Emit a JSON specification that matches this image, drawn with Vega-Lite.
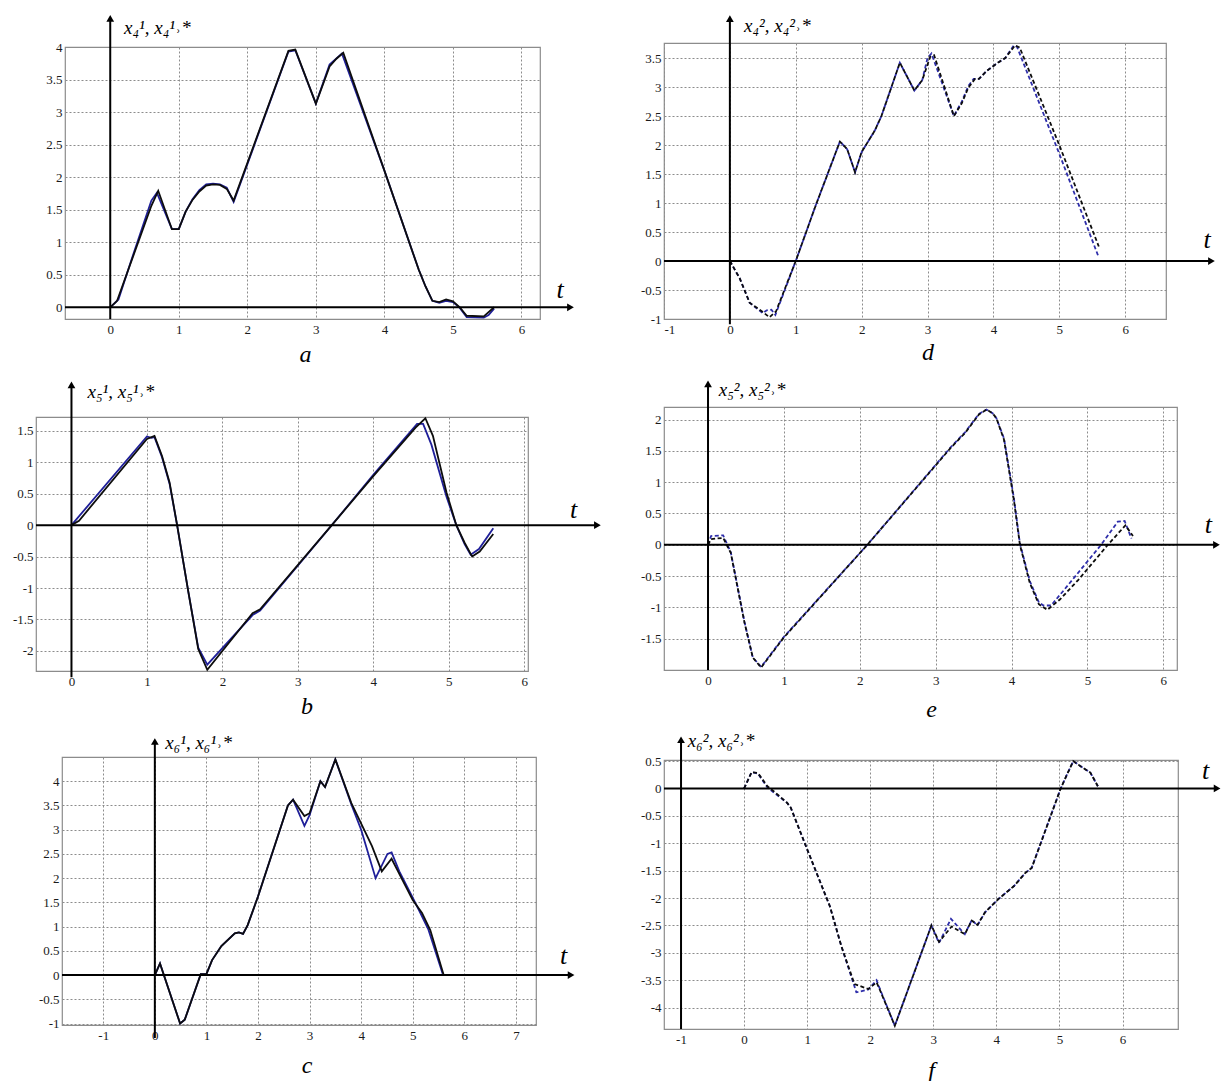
{
  "$schema": "https://vega.github.io/schema/vega-lite/v6.json",
  "padding": 0,
  "background": "white",
  "datasets": {
    "a": [
      {"t":0,"v":0,"s":"x"},{"t":0.1,"v":0.1,"s":"x"},{"t":0.6,"v":1.56,"s":"x"},{"t":0.7,"v":1.79,"s":"x"},{"t":0.9,"v":1.2,"s":"x"},{"t":1.0,"v":1.2,"s":"x"},{"t":1.1,"v":1.47,"s":"x"},{"t":1.2,"v":1.65,"s":"x"},{"t":1.3,"v":1.78,"s":"x"},{"t":1.4,"v":1.87,"s":"x"},{"t":1.5,"v":1.89,"s":"x"},{"t":1.6,"v":1.88,"s":"x"},{"t":1.7,"v":1.82,"s":"x"},{"t":1.8,"v":1.64,"s":"x"},{"t":2.6,"v":3.94,"s":"x"},{"t":2.7,"v":3.96,"s":"x"},{"t":3.0,"v":3.13,"s":"x"},{"t":3.2,"v":3.7,"s":"x"},{"t":3.3,"v":3.82,"s":"x"},{"t":3.4,"v":3.91,"s":"x"},{"t":4.0,"v":2.1,"s":"x"},{"t":4.5,"v":0.58,"s":"x"},{"t":4.6,"v":0.32,"s":"x"},{"t":4.7,"v":0.1,"s":"x"},{"t":4.8,"v":0.08,"s":"x"},{"t":4.9,"v":0.12,"s":"x"},{"t":5.0,"v":0.09,"s":"x"},{"t":5.1,"v":0.0,"s":"x"},{"t":5.2,"v":-0.13,"s":"x"},{"t":5.45,"v":-0.14,"s":"x"},{"t":5.6,"v":0.0,"s":"x"},
      {"t":0,"v":0,"s":"x*"},{"t":0.12,"v":0.12,"s":"x*"},{"t":0.3,"v":0.7,"s":"x*"},{"t":0.6,"v":1.64,"s":"x*"},{"t":0.68,"v":1.76,"s":"x*"},{"t":0.9,"v":1.2,"s":"x*"},{"t":1.0,"v":1.2,"s":"x*"},{"t":1.1,"v":1.47,"s":"x*"},{"t":1.2,"v":1.66,"s":"x*"},{"t":1.3,"v":1.8,"s":"x*"},{"t":1.4,"v":1.89,"s":"x*"},{"t":1.5,"v":1.9,"s":"x*"},{"t":1.6,"v":1.89,"s":"x*"},{"t":1.7,"v":1.84,"s":"x*"},{"t":1.8,"v":1.62,"s":"x*"},{"t":2.6,"v":3.93,"s":"x*"},{"t":2.7,"v":3.95,"s":"x*"},{"t":3.0,"v":3.13,"s":"x*"},{"t":3.2,"v":3.73,"s":"x*"},{"t":3.38,"v":3.9,"s":"x*"},{"t":4.0,"v":2.1,"s":"x*"},{"t":4.5,"v":0.58,"s":"x*"},{"t":4.6,"v":0.32,"s":"x*"},{"t":4.7,"v":0.1,"s":"x*"},{"t":4.8,"v":0.07,"s":"x*"},{"t":4.9,"v":0.1,"s":"x*"},{"t":5.0,"v":0.08,"s":"x*"},{"t":5.1,"v":-0.01,"s":"x*"},{"t":5.2,"v":-0.15,"s":"x*"},{"t":5.45,"v":-0.16,"s":"x*"},{"t":5.52,"v":-0.12,"s":"x*"},{"t":5.6,"v":-0.02,"s":"x*"}
    ],
    "d": [
      {"t":0,"v":0,"s":"x"},{"t":0.15,"v":-0.3,"s":"x"},{"t":0.3,"v":-0.72,"s":"x"},{"t":0.5,"v":-0.88,"s":"x"},{"t":0.6,"v":-0.97,"s":"x"},{"t":0.7,"v":-0.87,"s":"x"},{"t":1.0,"v":0.0,"s":"x"},{"t":1.3,"v":0.95,"s":"x"},{"t":1.67,"v":2.06,"s":"x"},{"t":1.78,"v":1.93,"s":"x"},{"t":1.9,"v":1.53,"s":"x"},{"t":2.0,"v":1.88,"s":"x"},{"t":2.2,"v":2.25,"s":"x"},{"t":2.3,"v":2.5,"s":"x"},{"t":2.58,"v":3.42,"s":"x"},{"t":2.8,"v":2.94,"s":"x"},{"t":2.92,"v":3.12,"s":"x"},{"t":3.04,"v":3.52,"s":"x"},{"t":3.1,"v":3.55,"s":"x"},{"t":3.4,"v":2.5,"s":"x"},{"t":3.52,"v":2.72,"s":"x"},{"t":3.62,"v":2.99,"s":"x"},{"t":3.72,"v":3.14,"s":"x"},{"t":3.78,"v":3.14,"s":"x"},{"t":3.9,"v":3.28,"s":"x"},{"t":4.08,"v":3.43,"s":"x"},{"t":4.18,"v":3.5,"s":"x"},{"t":4.33,"v":3.72,"s":"x"},{"t":4.4,"v":3.68,"s":"x"},{"t":5.0,"v":2.0,"s":"x"},{"t":5.6,"v":0.25,"s":"x"},
      {"t":0,"v":0,"s":"x*"},{"t":0.15,"v":-0.3,"s":"x*"},{"t":0.3,"v":-0.72,"s":"x*"},{"t":0.5,"v":-0.9,"s":"x*"},{"t":0.56,"v":-0.85,"s":"x*"},{"t":0.63,"v":-0.84,"s":"x*"},{"t":0.69,"v":-0.93,"s":"x*"},{"t":1.0,"v":0.0,"s":"x*"},{"t":1.3,"v":0.95,"s":"x*"},{"t":1.67,"v":2.06,"s":"x*"},{"t":1.78,"v":1.93,"s":"x*"},{"t":1.9,"v":1.53,"s":"x*"},{"t":2.0,"v":1.88,"s":"x*"},{"t":2.2,"v":2.25,"s":"x*"},{"t":2.3,"v":2.5,"s":"x*"},{"t":2.58,"v":3.42,"s":"x*"},{"t":2.8,"v":2.94,"s":"x*"},{"t":2.92,"v":3.12,"s":"x*"},{"t":3.0,"v":3.5,"s":"x*"},{"t":3.06,"v":3.58,"s":"x*"},{"t":3.4,"v":2.5,"s":"x*"},{"t":3.52,"v":2.75,"s":"x*"},{"t":3.62,"v":3.02,"s":"x*"},{"t":3.7,"v":3.14,"s":"x*"},{"t":3.78,"v":3.14,"s":"x*"},{"t":3.9,"v":3.28,"s":"x*"},{"t":4.08,"v":3.43,"s":"x*"},{"t":4.18,"v":3.5,"s":"x*"},{"t":4.31,"v":3.72,"s":"x*"},{"t":4.36,"v":3.69,"s":"x*"},{"t":5.0,"v":1.85,"s":"x*"},{"t":5.6,"v":0.06,"s":"x*"}
    ],
    "b": [
      {"t":0,"v":0,"s":"x"},{"t":0.1,"v":0.07,"s":"x"},{"t":1.0,"v":1.37,"s":"x"},{"t":1.1,"v":1.42,"s":"x"},{"t":1.2,"v":1.1,"s":"x"},{"t":1.3,"v":0.68,"s":"x"},{"t":1.4,"v":0.0,"s":"x"},{"t":1.55,"v":-1.07,"s":"x"},{"t":1.68,"v":-1.97,"s":"x"},{"t":1.8,"v":-2.3,"s":"x"},{"t":2.4,"v":-1.4,"s":"x"},{"t":2.5,"v":-1.34,"s":"x"},{"t":3.45,"v":0.0,"s":"x"},{"t":4.0,"v":0.78,"s":"x"},{"t":4.56,"v":1.55,"s":"x"},{"t":4.69,"v":1.7,"s":"x"},{"t":4.79,"v":1.42,"s":"x"},{"t":4.97,"v":0.52,"s":"x"},{"t":5.1,"v":0.0,"s":"x"},{"t":5.21,"v":-0.28,"s":"x"},{"t":5.31,"v":-0.5,"s":"x"},{"t":5.41,"v":-0.42,"s":"x"},{"t":5.59,"v":-0.14,"s":"x"},
      {"t":0,"v":0,"s":"x*"},{"t":1.0,"v":1.41,"s":"x*"},{"t":1.06,"v":1.39,"s":"x*"},{"t":1.1,"v":1.4,"s":"x*"},{"t":1.2,"v":1.08,"s":"x*"},{"t":1.3,"v":0.66,"s":"x*"},{"t":1.4,"v":0.0,"s":"x*"},{"t":1.55,"v":-1.07,"s":"x*"},{"t":1.68,"v":-1.95,"s":"x*"},{"t":1.8,"v":-2.22,"s":"x*"},{"t":2.4,"v":-1.43,"s":"x*"},{"t":2.5,"v":-1.36,"s":"x*"},{"t":3.45,"v":0.0,"s":"x*"},{"t":4.0,"v":0.8,"s":"x*"},{"t":4.58,"v":1.61,"s":"x*"},{"t":4.66,"v":1.61,"s":"x*"},{"t":4.77,"v":1.28,"s":"x*"},{"t":4.97,"v":0.45,"s":"x*"},{"t":5.1,"v":0.0,"s":"x*"},{"t":5.21,"v":-0.3,"s":"x*"},{"t":5.29,"v":-0.47,"s":"x*"},{"t":5.4,"v":-0.38,"s":"x*"},{"t":5.59,"v":-0.05,"s":"x*"}
    ],
    "e": [
      {"t":0,"v":0,"s":"x"},{"t":0.04,"v":0.09,"s":"x"},{"t":0.2,"v":0.11,"s":"x"},{"t":0.3,"v":-0.13,"s":"x"},{"t":0.48,"v":-1.24,"s":"x"},{"t":0.59,"v":-1.8,"s":"x"},{"t":0.7,"v":-1.96,"s":"x"},{"t":1.0,"v":-1.48,"s":"x"},{"t":2.1,"v":0.0,"s":"x"},{"t":3.2,"v":1.55,"s":"x"},{"t":3.39,"v":1.79,"s":"x"},{"t":3.57,"v":2.08,"s":"x"},{"t":3.67,"v":2.16,"s":"x"},{"t":3.75,"v":2.1,"s":"x"},{"t":3.8,"v":2.02,"s":"x"},{"t":3.9,"v":1.68,"s":"x"},{"t":4.03,"v":0.72,"s":"x"},{"t":4.11,"v":0.0,"s":"x"},{"t":4.24,"v":-0.61,"s":"x"},{"t":4.36,"v":-0.95,"s":"x"},{"t":4.47,"v":-1.04,"s":"x"},{"t":4.64,"v":-0.87,"s":"x"},{"t":4.88,"v":-0.56,"s":"x"},{"t":5.27,"v":0.0,"s":"x"},{"t":5.5,"v":0.31,"s":"x"},{"t":5.6,"v":0.14,"s":"x"},
      {"t":0,"v":0,"s":"x*"},{"t":0.04,"v":0.14,"s":"x*"},{"t":0.2,"v":0.15,"s":"x*"},{"t":0.3,"v":-0.12,"s":"x*"},{"t":0.48,"v":-1.23,"s":"x*"},{"t":0.59,"v":-1.8,"s":"x*"},{"t":0.7,"v":-1.95,"s":"x*"},{"t":1.0,"v":-1.47,"s":"x*"},{"t":2.1,"v":0.0,"s":"x*"},{"t":3.2,"v":1.56,"s":"x*"},{"t":3.39,"v":1.8,"s":"x*"},{"t":3.57,"v":2.09,"s":"x*"},{"t":3.67,"v":2.16,"s":"x*"},{"t":3.75,"v":2.1,"s":"x*"},{"t":3.8,"v":2.02,"s":"x*"},{"t":3.9,"v":1.7,"s":"x*"},{"t":4.03,"v":0.75,"s":"x*"},{"t":4.11,"v":0.02,"s":"x*"},{"t":4.24,"v":-0.58,"s":"x*"},{"t":4.36,"v":-0.92,"s":"x*"},{"t":4.42,"v":-0.97,"s":"x*"},{"t":4.52,"v":-0.97,"s":"x*"},{"t":4.7,"v":-0.71,"s":"x*"},{"t":5.18,"v":0.0,"s":"x*"},{"t":5.4,"v":0.37,"s":"x*"},{"t":5.49,"v":0.38,"s":"x*"},{"t":5.58,"v":0.1,"s":"x*"}
    ],
    "c": [
      {"t":0,"v":0,"s":"x"},{"t":0.1,"v":0.24,"s":"x"},{"t":0.49,"v":-1.0,"s":"x"},{"t":0.58,"v":-0.92,"s":"x"},{"t":0.89,"v":0.02,"s":"x"},{"t":1.0,"v":0.02,"s":"x"},{"t":1.11,"v":0.31,"s":"x"},{"t":1.29,"v":0.6,"s":"x"},{"t":1.55,"v":0.86,"s":"x"},{"t":1.63,"v":0.88,"s":"x"},{"t":1.71,"v":0.85,"s":"x"},{"t":1.8,"v":1.03,"s":"x"},{"t":2.0,"v":1.62,"s":"x"},{"t":2.58,"v":3.5,"s":"x"},{"t":2.68,"v":3.62,"s":"x"},{"t":2.9,"v":3.28,"s":"x"},{"t":3.0,"v":3.34,"s":"x"},{"t":3.21,"v":4.0,"s":"x"},{"t":3.3,"v":3.88,"s":"x"},{"t":3.5,"v":4.45,"s":"x"},{"t":3.81,"v":3.55,"s":"x"},{"t":3.98,"v":3.17,"s":"x"},{"t":4.21,"v":2.66,"s":"x"},{"t":4.4,"v":2.14,"s":"x"},{"t":4.59,"v":2.4,"s":"x"},{"t":4.7,"v":2.17,"s":"x"},{"t":5.0,"v":1.55,"s":"x"},{"t":5.18,"v":1.28,"s":"x"},{"t":5.34,"v":0.93,"s":"x"},{"t":5.6,"v":0.0,"s":"x"},
      {"t":0,"v":0,"s":"x*"},{"t":0.1,"v":0.24,"s":"x*"},{"t":0.49,"v":-1.0,"s":"x*"},{"t":0.58,"v":-0.92,"s":"x*"},{"t":0.89,"v":0.02,"s":"x*"},{"t":1.0,"v":0.02,"s":"x*"},{"t":1.11,"v":0.31,"s":"x*"},{"t":1.29,"v":0.6,"s":"x*"},{"t":1.55,"v":0.86,"s":"x*"},{"t":1.63,"v":0.88,"s":"x*"},{"t":1.71,"v":0.85,"s":"x*"},{"t":1.8,"v":1.03,"s":"x*"},{"t":2.0,"v":1.62,"s":"x*"},{"t":2.58,"v":3.5,"s":"x*"},{"t":2.68,"v":3.62,"s":"x*"},{"t":2.9,"v":3.08,"s":"x*"},{"t":3.0,"v":3.3,"s":"x*"},{"t":3.21,"v":4.0,"s":"x*"},{"t":3.3,"v":3.88,"s":"x*"},{"t":3.5,"v":4.45,"s":"x*"},{"t":3.81,"v":3.52,"s":"x*"},{"t":4.0,"v":3.0,"s":"x*"},{"t":4.28,"v":2.0,"s":"x*"},{"t":4.51,"v":2.5,"s":"x*"},{"t":4.59,"v":2.53,"s":"x*"},{"t":4.74,"v":2.14,"s":"x*"},{"t":5.0,"v":1.6,"s":"x*"},{"t":5.12,"v":1.34,"s":"x*"},{"t":5.3,"v":0.95,"s":"x*"},{"t":5.58,"v":0.03,"s":"x*"}
    ],
    "f": [
      {"t":0,"v":0,"s":"x"},{"t":0.12,"v":0.3,"s":"x"},{"t":0.22,"v":0.28,"s":"x"},{"t":0.37,"v":0.04,"s":"x"},{"t":0.5,"v":-0.08,"s":"x"},{"t":0.68,"v":-0.26,"s":"x"},{"t":0.74,"v":-0.35,"s":"x"},{"t":1.0,"v":-1.11,"s":"x"},{"t":1.36,"v":-2.15,"s":"x"},{"t":1.54,"v":-2.87,"s":"x"},{"t":1.75,"v":-3.57,"s":"x"},{"t":1.97,"v":-3.66,"s":"x"},{"t":2.1,"v":-3.54,"s":"x"},{"t":2.14,"v":-3.64,"s":"x"},{"t":2.39,"v":-4.33,"s":"x"},{"t":2.97,"v":-2.5,"s":"x"},{"t":3.09,"v":-2.8,"s":"x"},{"t":3.29,"v":-2.52,"s":"x"},{"t":3.5,"v":-2.66,"s":"x"},{"t":3.61,"v":-2.41,"s":"x"},{"t":3.7,"v":-2.49,"s":"x"},{"t":3.82,"v":-2.26,"s":"x"},{"t":4.03,"v":-2.02,"s":"x"},{"t":4.28,"v":-1.78,"s":"x"},{"t":4.46,"v":-1.54,"s":"x"},{"t":4.56,"v":-1.45,"s":"x"},{"t":5.02,"v":0.0,"s":"x"},{"t":5.11,"v":0.23,"s":"x"},{"t":5.22,"v":0.5,"s":"x"},{"t":5.33,"v":0.41,"s":"x"},{"t":5.49,"v":0.29,"s":"x"},{"t":5.61,"v":0.04,"s":"x"},
      {"t":0,"v":0,"s":"x*"},{"t":0.12,"v":0.3,"s":"x*"},{"t":0.22,"v":0.27,"s":"x*"},{"t":0.37,"v":0.02,"s":"x*"},{"t":0.5,"v":-0.1,"s":"x*"},{"t":0.68,"v":-0.26,"s":"x*"},{"t":0.74,"v":-0.35,"s":"x*"},{"t":1.0,"v":-1.11,"s":"x*"},{"t":1.36,"v":-2.15,"s":"x*"},{"t":1.54,"v":-2.87,"s":"x*"},{"t":1.78,"v":-3.72,"s":"x*"},{"t":1.97,"v":-3.67,"s":"x*"},{"t":2.1,"v":-3.5,"s":"x*"},{"t":2.14,"v":-3.62,"s":"x*"},{"t":2.39,"v":-4.33,"s":"x*"},{"t":2.97,"v":-2.5,"s":"x*"},{"t":3.09,"v":-2.82,"s":"x*"},{"t":3.28,"v":-2.38,"s":"x*"},{"t":3.5,"v":-2.66,"s":"x*"},{"t":3.61,"v":-2.4,"s":"x*"},{"t":3.7,"v":-2.5,"s":"x*"},{"t":3.82,"v":-2.26,"s":"x*"},{"t":4.03,"v":-2.02,"s":"x*"},{"t":4.28,"v":-1.78,"s":"x*"},{"t":4.46,"v":-1.54,"s":"x*"},{"t":4.56,"v":-1.45,"s":"x*"},{"t":5.02,"v":0.0,"s":"x*"},{"t":5.11,"v":0.23,"s":"x*"},{"t":5.22,"v":0.5,"s":"x*"},{"t":5.33,"v":0.41,"s":"x*"},{"t":5.49,"v":0.29,"s":"x*"},{"t":5.61,"v":0.04,"s":"x*"}
    ]
  },
  "hconcat": [
    {
      "spacing": 0,
      "vconcat": [
        {"data": {"values": [{}]}, "mark": {"type": "point", "opacity": 0, "size": 0}, "encoding": {}, "width": 1, "height": 14},
        {
          "spacing": 0,
          "hconcat": [
            {"data": {"values": [{}]}, "mark": {"type": "point", "opacity": 0, "size": 0}, "encoding": {}, "width": 40, "height": 1},
            {
              "width": 475, "height": 272,
              "view": {"stroke": "#8c8c8c", "strokeWidth": 1.2},
              "data": {"name": "a"},
              "title": {"text": "a", "orient": "bottom", "frame": "group", "anchor": "middle", "dx": 3, "offset": 7},
              "layer": [
                {"transform": [{"filter": "datum.s == 'x*'"}], "mark": {"type": "line", "color": "#1f1f99", "strokeWidth": 1.8},
                 "encoding": {
                   "x": {"field": "t", "type": "quantitative", "scale": {"domain": [-0.66, 6.27], "nice": false, "zero": false}, "axis": {"values": [0,1,2,3,4,5,6], "title": "t", "titleX": 494.5, "titleY": -30, "titleFontSize": 26, "titleAlign": "center", "titleBaseline": "middle", "labelPadding": 4}},
                   "y": {"field": "v", "type": "quantitative", "scale": {"domain": [-0.18, 4], "nice": false, "zero": false}, "axis": {"values": [0,0.5,1,1.5,2,2.5,3,3.5,4], "title": "x₄¹, x₄¹˒*", "titleX": 58.5, "titleY": -20, "titleAngle": 0, "titleFontSize": 19, "titleAlign": "left", "titleBaseline": "middle"}}}},
                {"transform": [{"filter": "datum.s == 'x'"}], "mark": {"type": "line", "color": "#0d0d0d", "strokeWidth": 1.8},
                 "encoding": {
                   "x": {"field": "t", "type": "quantitative", "scale": {"domain": [-0.66, 6.27], "nice": false, "zero": false}, "axis": {"values": [0,1,2,3,4,5,6], "title": "t", "titleX": 494.5, "titleY": -30, "titleFontSize": 26, "titleAlign": "center", "titleBaseline": "middle", "labelPadding": 4}},
                   "y": {"field": "v", "type": "quantitative", "scale": {"domain": [-0.18, 4], "nice": false, "zero": false}, "axis": {"values": [0,0.5,1,1.5,2,2.5,3,3.5,4], "title": "x₄¹, x₄¹˒*", "titleX": 58.5, "titleY": -20, "titleAngle": 0, "titleFontSize": 19, "titleAlign": "left", "titleBaseline": "middle"}}}},
                {"data": {"values": [{}]}, "mark": {"type": "rule", "color": "#000", "strokeWidth": 2},
                 "encoding": {
                   "x": {"datum": -0.66, "type": "quantitative", "axis": {"values": [0,1,2,3,4,5,6], "title": "t", "titleX": 494.5, "titleY": -30, "titleFontSize": 26, "titleAlign": "center", "titleBaseline": "middle", "labelPadding": 4}},
                   "x2": {"datum": 6.715},
                   "y": {"datum": 0, "type": "quantitative", "axis": {"values": [0,0.5,1,1.5,2,2.5,3,3.5,4], "title": "x₄¹, x₄¹˒*", "titleX": 58.5, "titleY": -20, "titleAngle": 0, "titleFontSize": 19, "titleAlign": "left", "titleBaseline": "middle"}}}},
                {"data": {"values": [{}]}, "mark": {"type": "rule", "color": "#000", "strokeWidth": 2},
                 "encoding": {
                   "x": {"datum": 0, "type": "quantitative", "axis": {"values": [0,1,2,3,4,5,6], "title": "t", "titleX": 494.5, "titleY": -30, "titleFontSize": 26, "titleAlign": "center", "titleBaseline": "middle", "labelPadding": 4}},
                   "y": {"datum": -0.18, "type": "quantitative", "axis": {"values": [0,0.5,1,1.5,2,2.5,3,3.5,4], "title": "x₄¹, x₄¹˒*", "titleX": 58.5, "titleY": -20, "titleAngle": 0, "titleFontSize": 19, "titleAlign": "left", "titleBaseline": "middle"}},
                   "y2": {"datum": 4.44}}},
                {"data": {"values": [{}]}, "mark": {"type": "point", "shape": "triangle-right", "filled": true, "color": "#000", "opacity": 1, "size": 60},
                 "encoding": {
                   "x": {"datum": 6.715, "type": "quantitative", "axis": {"values": [0,1,2,3,4,5,6], "title": "t", "titleX": 494.5, "titleY": -30, "titleFontSize": 26, "titleAlign": "center", "titleBaseline": "middle", "labelPadding": 4}},
                   "y": {"datum": 0, "type": "quantitative", "axis": {"values": [0,0.5,1,1.5,2,2.5,3,3.5,4], "title": "x₄¹, x₄¹˒*", "titleX": 58.5, "titleY": -20, "titleAngle": 0, "titleFontSize": 19, "titleAlign": "left", "titleBaseline": "middle"}}}},
                {"data": {"values": [{}]}, "mark": {"type": "point", "shape": "triangle-up", "filled": true, "color": "#000", "opacity": 1, "size": 60},
                 "encoding": {
                   "x": {"datum": 0, "type": "quantitative", "axis": {"values": [0,1,2,3,4,5,6], "title": "t", "titleX": 494.5, "titleY": -30, "titleFontSize": 26, "titleAlign": "center", "titleBaseline": "middle", "labelPadding": 4}},
                   "y": {"datum": 4.44, "type": "quantitative", "axis": {"values": [0,0.5,1,1.5,2,2.5,3,3.5,4], "title": "x₄¹, x₄¹˒*", "titleX": 58.5, "titleY": -20, "titleAngle": 0, "titleFontSize": 19, "titleAlign": "left", "titleBaseline": "middle"}}}}
              ]
            }
          ]
        },
        {"data": {"values": [{}]}, "mark": {"type": "point", "opacity": 0, "size": 0}, "encoding": {}, "width": 1, "height": 12},
        {
          "spacing": 0,
          "hconcat": [
            {"data": {"values": [{}]}, "mark": {"type": "point", "opacity": 0, "size": 0}, "encoding": {}, "width": 11, "height": 1},
            {
              "width": 492, "height": 254,
              "view": {"stroke": "#8c8c8c", "strokeWidth": 1.2},
              "data": {"name": "b"},
              "title": {"text": "b", "orient": "bottom", "frame": "group", "anchor": "middle", "dx": 25, "offset": 7},
              "layer": [
                {"transform": [{"filter": "datum.s == 'x*'"}], "mark": {"type": "line", "color": "#1f1f99", "strokeWidth": 1.8},
                 "encoding": {
                   "x": {"field": "t", "type": "quantitative", "scale": {"domain": [-0.47, 6.05], "nice": false, "zero": false}, "axis": {"values": [0,1,2,3,4,5,6], "title": "t", "titleX": 537, "titleY": -161.7, "titleFontSize": 26, "titleAlign": "center", "titleBaseline": "middle", "labelPadding": 4}},
                   "y": {"field": "v", "type": "quantitative", "scale": {"domain": [-2.32, 1.72], "nice": false, "zero": false}, "axis": {"values": [-2,-1.5,-1,-0.5,0,0.5,1,1.5], "title": "x₅¹, x₅¹˒*", "titleX": 51, "titleY": -25.7, "titleAngle": 0, "titleFontSize": 19, "titleAlign": "left", "titleBaseline": "middle"}}}},
                {"transform": [{"filter": "datum.s == 'x'"}], "mark": {"type": "line", "color": "#0d0d0d", "strokeWidth": 1.8},
                 "encoding": {
                   "x": {"field": "t", "type": "quantitative", "scale": {"domain": [-0.47, 6.05], "nice": false, "zero": false}, "axis": {"values": [0,1,2,3,4,5,6], "title": "t", "titleX": 537, "titleY": -161.7, "titleFontSize": 26, "titleAlign": "center", "titleBaseline": "middle", "labelPadding": 4}},
                   "y": {"field": "v", "type": "quantitative", "scale": {"domain": [-2.32, 1.72], "nice": false, "zero": false}, "axis": {"values": [-2,-1.5,-1,-0.5,0,0.5,1,1.5], "title": "x₅¹, x₅¹˒*", "titleX": 51, "titleY": -25.7, "titleAngle": 0, "titleFontSize": 19, "titleAlign": "left", "titleBaseline": "middle"}}}},
                {"data": {"values": [{}]}, "mark": {"type": "rule", "color": "#000", "strokeWidth": 2},
                 "encoding": {
                   "x": {"datum": -0.47, "type": "quantitative", "axis": {"values": [0,1,2,3,4,5,6], "title": "t", "titleX": 537, "titleY": -161.7, "titleFontSize": 26, "titleAlign": "center", "titleBaseline": "middle", "labelPadding": 4}},
                   "x2": {"datum": 6.97},
                   "y": {"datum": 0, "type": "quantitative", "axis": {"values": [-2,-1.5,-1,-0.5,0,0.5,1,1.5], "title": "x₅¹, x₅¹˒*", "titleX": 51, "titleY": -25.7, "titleAngle": 0, "titleFontSize": 19, "titleAlign": "left", "titleBaseline": "middle"}}}},
                {"data": {"values": [{}]}, "mark": {"type": "rule", "color": "#000", "strokeWidth": 2},
                 "encoding": {
                   "x": {"datum": 0, "type": "quantitative", "axis": {"values": [0,1,2,3,4,5,6], "title": "t", "titleX": 537, "titleY": -161.7, "titleFontSize": 26, "titleAlign": "center", "titleBaseline": "middle", "labelPadding": 4}},
                   "y": {"datum": -2.42, "type": "quantitative", "axis": {"values": [-2,-1.5,-1,-0.5,0,0.5,1,1.5], "title": "x₅¹, x₅¹˒*", "titleX": 51, "titleY": -25.7, "titleAngle": 0, "titleFontSize": 19, "titleAlign": "left", "titleBaseline": "middle"}},
                   "y2": {"datum": 2.23}}},
                {"data": {"values": [{}]}, "mark": {"type": "point", "shape": "triangle-right", "filled": true, "color": "#000", "opacity": 1, "size": 60},
                 "encoding": {
                   "x": {"datum": 6.97, "type": "quantitative", "axis": {"values": [0,1,2,3,4,5,6], "title": "t", "titleX": 537, "titleY": -161.7, "titleFontSize": 26, "titleAlign": "center", "titleBaseline": "middle", "labelPadding": 4}},
                   "y": {"datum": 0, "type": "quantitative", "axis": {"values": [-2,-1.5,-1,-0.5,0,0.5,1,1.5], "title": "x₅¹, x₅¹˒*", "titleX": 51, "titleY": -25.7, "titleAngle": 0, "titleFontSize": 19, "titleAlign": "left", "titleBaseline": "middle"}}}},
                {"data": {"values": [{}]}, "mark": {"type": "point", "shape": "triangle-up", "filled": true, "color": "#000", "opacity": 1, "size": 60},
                 "encoding": {
                   "x": {"datum": 0, "type": "quantitative", "axis": {"values": [0,1,2,3,4,5,6], "title": "t", "titleX": 537, "titleY": -161.7, "titleFontSize": 26, "titleAlign": "center", "titleBaseline": "middle", "labelPadding": 4}},
                   "y": {"datum": 2.23, "type": "quantitative", "axis": {"values": [-2,-1.5,-1,-0.5,0,0.5,1,1.5], "title": "x₅¹, x₅¹˒*", "titleX": 51, "titleY": -25.7, "titleAngle": 0, "titleFontSize": 19, "titleAlign": "left", "titleBaseline": "middle"}}}}
              ]
            }
          ]
        },
        {"data": {"values": [{}]}, "mark": {"type": "point", "opacity": 0, "size": 0}, "encoding": {}, "width": 1, "height": 13},
        {
          "spacing": 0,
          "hconcat": [
            {"data": {"values": [{}]}, "mark": {"type": "point", "opacity": 0, "size": 0}, "encoding": {}, "width": 37, "height": 1},
            {
              "width": 474, "height": 268,
              "view": {"stroke": "#8c8c8c", "strokeWidth": 1.2},
              "data": {"name": "c"},
              "title": {"text": "c", "orient": "bottom", "frame": "group", "anchor": "middle", "dx": 8, "offset": 12},
              "layer": [
                {"transform": [{"filter": "datum.s == 'x*'"}], "mark": {"type": "line", "color": "#1f1f99", "strokeWidth": 1.8},
                 "encoding": {
                   "x": {"field": "t", "type": "quantitative", "scale": {"domain": [-1.8, 7.39], "nice": false, "zero": false}, "axis": {"values": [-1,0,1,2,3,4,5,6,7], "title": "t", "titleX": 501.2, "titleY": -70, "titleFontSize": 26, "titleAlign": "center", "titleBaseline": "middle", "labelPadding": 4}},
                   "y": {"field": "v", "type": "quantitative", "scale": {"domain": [-1.03, 4.5], "nice": false, "zero": false}, "axis": {"values": [-1,-0.5,0,0.5,1,1.5,2,2.5,3,3.5,4], "title": "x₆¹, x₆¹˒*", "titleX": 102.7, "titleY": -14.3, "titleAngle": 0, "titleFontSize": 19, "titleAlign": "left", "titleBaseline": "middle"}}}},
                {"transform": [{"filter": "datum.s == 'x'"}], "mark": {"type": "line", "color": "#0d0d0d", "strokeWidth": 1.8},
                 "encoding": {
                   "x": {"field": "t", "type": "quantitative", "scale": {"domain": [-1.8, 7.39], "nice": false, "zero": false}, "axis": {"values": [-1,0,1,2,3,4,5,6,7], "title": "t", "titleX": 501.2, "titleY": -70, "titleFontSize": 26, "titleAlign": "center", "titleBaseline": "middle", "labelPadding": 4}},
                   "y": {"field": "v", "type": "quantitative", "scale": {"domain": [-1.03, 4.5], "nice": false, "zero": false}, "axis": {"values": [-1,-0.5,0,0.5,1,1.5,2,2.5,3,3.5,4], "title": "x₆¹, x₆¹˒*", "titleX": 102.7, "titleY": -14.3, "titleAngle": 0, "titleFontSize": 19, "titleAlign": "left", "titleBaseline": "middle"}}}},
                {"data": {"values": [{}]}, "mark": {"type": "rule", "color": "#000", "strokeWidth": 2},
                 "encoding": {
                   "x": {"datum": -1.8, "type": "quantitative", "axis": {"values": [-1,0,1,2,3,4,5,6,7], "title": "t", "titleX": 501.2, "titleY": -70, "titleFontSize": 26, "titleAlign": "center", "titleBaseline": "middle", "labelPadding": 4}},
                   "x2": {"datum": 8.07},
                   "y": {"datum": 0, "type": "quantitative", "axis": {"values": [-1,-0.5,0,0.5,1,1.5,2,2.5,3,3.5,4], "title": "x₆¹, x₆¹˒*", "titleX": 102.7, "titleY": -14.3, "titleAngle": 0, "titleFontSize": 19, "titleAlign": "left", "titleBaseline": "middle"}}}},
                {"data": {"values": [{}]}, "mark": {"type": "rule", "color": "#000", "strokeWidth": 2},
                 "encoding": {
                   "x": {"datum": 0, "type": "quantitative", "axis": {"values": [-1,0,1,2,3,4,5,6,7], "title": "t", "titleX": 501.2, "titleY": -70, "titleFontSize": 26, "titleAlign": "center", "titleBaseline": "middle", "labelPadding": 4}},
                   "y": {"datum": -1.3, "type": "quantitative", "axis": {"values": [-1,-0.5,0,0.5,1,1.5,2,2.5,3,3.5,4], "title": "x₆¹, x₆¹˒*", "titleX": 102.7, "titleY": -14.3, "titleAngle": 0, "titleFontSize": 19, "titleAlign": "left", "titleBaseline": "middle"}},
                   "y2": {"datum": 4.82}}},
                {"data": {"values": [{}]}, "mark": {"type": "point", "shape": "triangle-right", "filled": true, "color": "#000", "opacity": 1, "size": 60},
                 "encoding": {
                   "x": {"datum": 8.07, "type": "quantitative", "axis": {"values": [-1,0,1,2,3,4,5,6,7], "title": "t", "titleX": 501.2, "titleY": -70, "titleFontSize": 26, "titleAlign": "center", "titleBaseline": "middle", "labelPadding": 4}},
                   "y": {"datum": 0, "type": "quantitative", "axis": {"values": [-1,-0.5,0,0.5,1,1.5,2,2.5,3,3.5,4], "title": "x₆¹, x₆¹˒*", "titleX": 102.7, "titleY": -14.3, "titleAngle": 0, "titleFontSize": 19, "titleAlign": "left", "titleBaseline": "middle"}}}},
                {"data": {"values": [{}]}, "mark": {"type": "point", "shape": "triangle-up", "filled": true, "color": "#000", "opacity": 1, "size": 60},
                 "encoding": {
                   "x": {"datum": 0, "type": "quantitative", "axis": {"values": [-1,0,1,2,3,4,5,6,7], "title": "t", "titleX": 501.2, "titleY": -70, "titleFontSize": 26, "titleAlign": "center", "titleBaseline": "middle", "labelPadding": 4}},
                   "y": {"datum": 4.82, "type": "quantitative", "axis": {"values": [-1,-0.5,0,0.5,1,1.5,2,2.5,3,3.5,4], "title": "x₆¹, x₆¹˒*", "titleX": 102.7, "titleY": -14.3, "titleAngle": 0, "titleFontSize": 19, "titleAlign": "left", "titleBaseline": "middle"}}}}
              ]
            }
          ]
        }
      ]
    },
    {
      "spacing": 0,
      "vconcat": [
        {"data": {"values": [{}]}, "mark": {"type": "point", "opacity": 0, "size": 0}, "encoding": {}, "width": 1, "height": 14},
        {
          "width": 502, "height": 276,
          "view": {"stroke": "#8c8c8c", "strokeWidth": 1.2},
          "data": {"name": "d"},
          "title": {"text": "d", "orient": "bottom", "frame": "group", "anchor": "middle", "dx": 13, "offset": 5},
          "layer": [
            {"transform": [{"filter": "datum.s == 'x*'"}], "mark": {"type": "line", "color": "#2e2eaa", "strokeWidth": 1.8, "strokeDash": [4, 2.5]},
             "encoding": {
               "x": {"field": "t", "type": "quantitative", "scale": {"domain": [-1, 6.62], "nice": false, "zero": false}, "axis": {"values": [-1,0,1,2,3,4,5,6], "title": "t", "titleX": 542.5, "titleY": -80, "titleFontSize": 26, "titleAlign": "center", "titleBaseline": "middle", "labelPadding": 4}},
               "y": {"field": "v", "type": "quantitative", "scale": {"domain": [-1, 3.76], "nice": false, "zero": false}, "axis": {"values": [-1,-0.5,0,0.5,1,1.5,2,2.5,3,3.5], "title": "x₄², x₄²˒*", "titleX": 79.5, "titleY": -18, "titleAngle": 0, "titleFontSize": 19, "titleAlign": "left", "titleBaseline": "middle"}}}},
            {"transform": [{"filter": "datum.s == 'x'"}], "mark": {"type": "line", "color": "#0d0d0d", "strokeWidth": 1.8, "strokeDash": [4, 2.5]},
             "encoding": {
               "x": {"field": "t", "type": "quantitative", "scale": {"domain": [-1, 6.62], "nice": false, "zero": false}, "axis": {"values": [-1,0,1,2,3,4,5,6], "title": "t", "titleX": 542.5, "titleY": -80, "titleFontSize": 26, "titleAlign": "center", "titleBaseline": "middle", "labelPadding": 4}},
               "y": {"field": "v", "type": "quantitative", "scale": {"domain": [-1, 3.76], "nice": false, "zero": false}, "axis": {"values": [-1,-0.5,0,0.5,1,1.5,2,2.5,3,3.5], "title": "x₄², x₄²˒*", "titleX": 79.5, "titleY": -18, "titleAngle": 0, "titleFontSize": 19, "titleAlign": "left", "titleBaseline": "middle"}}}},
            {"data": {"values": [{}]}, "mark": {"type": "rule", "color": "#000", "strokeWidth": 2},
             "encoding": {
               "x": {"datum": -1, "type": "quantitative", "axis": {"values": [-1,0,1,2,3,4,5,6], "title": "t", "titleX": 542.5, "titleY": -80, "titleFontSize": 26, "titleAlign": "center", "titleBaseline": "middle", "labelPadding": 4}},
               "x2": {"datum": 7.31},
               "y": {"datum": 0, "type": "quantitative", "axis": {"values": [-1,-0.5,0,0.5,1,1.5,2,2.5,3,3.5], "title": "x₄², x₄²˒*", "titleX": 79.5, "titleY": -18, "titleAngle": 0, "titleFontSize": 19, "titleAlign": "left", "titleBaseline": "middle"}}}},
            {"data": {"values": [{}]}, "mark": {"type": "rule", "color": "#000", "strokeWidth": 2},
             "encoding": {
               "x": {"datum": 0, "type": "quantitative", "axis": {"values": [-1,0,1,2,3,4,5,6], "title": "t", "titleX": 542.5, "titleY": -80, "titleFontSize": 26, "titleAlign": "center", "titleBaseline": "middle", "labelPadding": 4}},
               "y": {"datum": -1.09, "type": "quantitative", "axis": {"values": [-1,-0.5,0,0.5,1,1.5,2,2.5,3,3.5], "title": "x₄², x₄²˒*", "titleX": 79.5, "titleY": -18, "titleAngle": 0, "titleFontSize": 19, "titleAlign": "left", "titleBaseline": "middle"}},
               "y2": {"datum": 4.18}}},
            {"data": {"values": [{}]}, "mark": {"type": "point", "shape": "triangle-right", "filled": true, "color": "#000", "opacity": 1, "size": 60},
             "encoding": {
               "x": {"datum": 7.31, "type": "quantitative", "axis": {"values": [-1,0,1,2,3,4,5,6], "title": "t", "titleX": 542.5, "titleY": -80, "titleFontSize": 26, "titleAlign": "center", "titleBaseline": "middle", "labelPadding": 4}},
               "y": {"datum": 0, "type": "quantitative", "axis": {"values": [-1,-0.5,0,0.5,1,1.5,2,2.5,3,3.5], "title": "x₄², x₄²˒*", "titleX": 79.5, "titleY": -18, "titleAngle": 0, "titleFontSize": 19, "titleAlign": "left", "titleBaseline": "middle"}}}},
            {"data": {"values": [{}]}, "mark": {"type": "point", "shape": "triangle-up", "filled": true, "color": "#000", "opacity": 1, "size": 60},
             "encoding": {
               "x": {"datum": 0, "type": "quantitative", "axis": {"values": [-1,0,1,2,3,4,5,6], "title": "t", "titleX": 542.5, "titleY": -80, "titleFontSize": 26, "titleAlign": "center", "titleBaseline": "middle", "labelPadding": 4}},
               "y": {"datum": 4.18, "type": "quantitative", "axis": {"values": [-1,-0.5,0,0.5,1,1.5,2,2.5,3,3.5], "title": "x₄², x₄²˒*", "titleX": 79.5, "titleY": -18, "titleAngle": 0, "titleFontSize": 19, "titleAlign": "left", "titleBaseline": "middle"}}}}
          ]
        },
        {"data": {"values": [{}]}, "mark": {"type": "point", "opacity": 0, "size": 0}, "encoding": {}, "width": 1, "height": 13},
        {
          "width": 513, "height": 263,
          "view": {"stroke": "#8c8c8c", "strokeWidth": 1.2},
          "data": {"name": "e"},
          "title": {"text": "e", "orient": "bottom", "frame": "group", "anchor": "middle", "dx": 11, "offset": 11},
          "layer": [
            {"transform": [{"filter": "datum.s == 'x*'"}], "mark": {"type": "line", "color": "#2e2eaa", "strokeWidth": 1.8, "strokeDash": [4, 2.5]},
             "encoding": {
               "x": {"field": "t", "type": "quantitative", "scale": {"domain": [-0.58, 6.18], "nice": false, "zero": false}, "axis": {"values": [0,1,2,3,4,5,6], "title": "t", "titleX": 543.8, "titleY": -145.7, "titleFontSize": 26, "titleAlign": "center", "titleBaseline": "middle", "labelPadding": 4}},
               "y": {"field": "v", "type": "quantitative", "scale": {"domain": [-2.0, 2.2], "nice": false, "zero": false}, "axis": {"values": [-1.5,-1,-0.5,0,0.5,1,1.5,2], "title": "x₅², x₅²˒*", "titleX": 54.3, "titleY": -17.3, "titleAngle": 0, "titleFontSize": 19, "titleAlign": "left", "titleBaseline": "middle"}}}},
            {"transform": [{"filter": "datum.s == 'x'"}], "mark": {"type": "line", "color": "#0d0d0d", "strokeWidth": 1.8, "strokeDash": [4, 2.5]},
             "encoding": {
               "x": {"field": "t", "type": "quantitative", "scale": {"domain": [-0.58, 6.18], "nice": false, "zero": false}, "axis": {"values": [0,1,2,3,4,5,6], "title": "t", "titleX": 543.8, "titleY": -145.7, "titleFontSize": 26, "titleAlign": "center", "titleBaseline": "middle", "labelPadding": 4}},
               "y": {"field": "v", "type": "quantitative", "scale": {"domain": [-2.0, 2.2], "nice": false, "zero": false}, "axis": {"values": [-1.5,-1,-0.5,0,0.5,1,1.5,2], "title": "x₅², x₅²˒*", "titleX": 54.3, "titleY": -17.3, "titleAngle": 0, "titleFontSize": 19, "titleAlign": "left", "titleBaseline": "middle"}}}},
            {"data": {"values": [{}]}, "mark": {"type": "rule", "color": "#000", "strokeWidth": 2},
             "encoding": {
               "x": {"datum": -0.58, "type": "quantitative", "axis": {"values": [0,1,2,3,4,5,6], "title": "t", "titleX": 543.8, "titleY": -145.7, "titleFontSize": 26, "titleAlign": "center", "titleBaseline": "middle", "labelPadding": 4}},
               "x2": {"datum": 6.7},
               "y": {"datum": 0, "type": "quantitative", "axis": {"values": [-1.5,-1,-0.5,0,0.5,1,1.5,2], "title": "x₅², x₅²˒*", "titleX": 54.3, "titleY": -17.3, "titleAngle": 0, "titleFontSize": 19, "titleAlign": "left", "titleBaseline": "middle"}}}},
            {"data": {"values": [{}]}, "mark": {"type": "rule", "color": "#000", "strokeWidth": 2},
             "encoding": {
               "x": {"datum": 0, "type": "quantitative", "axis": {"values": [0,1,2,3,4,5,6], "title": "t", "titleX": 543.8, "titleY": -145.7, "titleFontSize": 26, "titleAlign": "center", "titleBaseline": "middle", "labelPadding": 4}},
               "y": {"datum": -2.0, "type": "quantitative", "axis": {"values": [-1.5,-1,-0.5,0,0.5,1,1.5,2], "title": "x₅², x₅²˒*", "titleX": 54.3, "titleY": -17.3, "titleAngle": 0, "titleFontSize": 19, "titleAlign": "left", "titleBaseline": "middle"}},
               "y2": {"datum": 2.57}}},
            {"data": {"values": [{}]}, "mark": {"type": "point", "shape": "triangle-right", "filled": true, "color": "#000", "opacity": 1, "size": 60},
             "encoding": {
               "x": {"datum": 6.7, "type": "quantitative", "axis": {"values": [0,1,2,3,4,5,6], "title": "t", "titleX": 543.8, "titleY": -145.7, "titleFontSize": 26, "titleAlign": "center", "titleBaseline": "middle", "labelPadding": 4}},
               "y": {"datum": 0, "type": "quantitative", "axis": {"values": [-1.5,-1,-0.5,0,0.5,1,1.5,2], "title": "x₅², x₅²˒*", "titleX": 54.3, "titleY": -17.3, "titleAngle": 0, "titleFontSize": 19, "titleAlign": "left", "titleBaseline": "middle"}}}},
            {"data": {"values": [{}]}, "mark": {"type": "point", "shape": "triangle-up", "filled": true, "color": "#000", "opacity": 1, "size": 60},
             "encoding": {
               "x": {"datum": 0, "type": "quantitative", "axis": {"values": [0,1,2,3,4,5,6], "title": "t", "titleX": 543.8, "titleY": -145.7, "titleFontSize": 26, "titleAlign": "center", "titleBaseline": "middle", "labelPadding": 4}},
               "y": {"datum": 2.57, "type": "quantitative", "axis": {"values": [-1.5,-1,-0.5,0,0.5,1,1.5,2], "title": "x₅², x₅²˒*", "titleX": 54.3, "titleY": -17.3, "titleAngle": 0, "titleFontSize": 19, "titleAlign": "left", "titleBaseline": "middle"}}}}
          ]
        },
        {"data": {"values": [{}]}, "mark": {"type": "point", "opacity": 0, "size": 0}, "encoding": {}, "width": 1, "height": 7},
        {
          "width": 514, "height": 269,
          "view": {"stroke": "#8c8c8c", "strokeWidth": 1.2},
          "data": {"name": "f"},
          "title": {"text": "f", "orient": "bottom", "frame": "group", "anchor": "middle", "dx": 10.5, "offset": 13},
          "layer": [
            {"transform": [{"filter": "datum.s == 'x*'"}], "mark": {"type": "line", "color": "#2e2eaa", "strokeWidth": 1.8, "strokeDash": [4, 2.5]},
             "encoding": {
               "x": {"field": "t", "type": "quantitative", "scale": {"domain": [-1.27, 6.88], "nice": false, "zero": false}, "axis": {"values": [-1,0,1,2,3,4,5,6], "title": "t", "titleX": 541, "titleY": -258.3, "titleFontSize": 26, "titleAlign": "center", "titleBaseline": "middle", "labelPadding": 4}},
               "y": {"field": "v", "type": "quantitative", "scale": {"domain": [-4.39, 0.52], "nice": false, "zero": false}, "axis": {"values": [-4,-3.5,-3,-2.5,-2,-1.5,-1,-0.5,0,0.5], "title": "x₆², x₆²˒*", "titleX": 23.3, "titleY": -19.7, "titleAngle": 0, "titleFontSize": 19, "titleAlign": "left", "titleBaseline": "middle"}}}},
            {"transform": [{"filter": "datum.s == 'x'"}], "mark": {"type": "line", "color": "#0d0d0d", "strokeWidth": 1.8, "strokeDash": [4, 2.5]},
             "encoding": {
               "x": {"field": "t", "type": "quantitative", "scale": {"domain": [-1.27, 6.88], "nice": false, "zero": false}, "axis": {"values": [-1,0,1,2,3,4,5,6], "title": "t", "titleX": 541, "titleY": -258.3, "titleFontSize": 26, "titleAlign": "center", "titleBaseline": "middle", "labelPadding": 4}},
               "y": {"field": "v", "type": "quantitative", "scale": {"domain": [-4.39, 0.52], "nice": false, "zero": false}, "axis": {"values": [-4,-3.5,-3,-2.5,-2,-1.5,-1,-0.5,0,0.5], "title": "x₆², x₆²˒*", "titleX": 23.3, "titleY": -19.7, "titleAngle": 0, "titleFontSize": 19, "titleAlign": "left", "titleBaseline": "middle"}}}},
            {"data": {"values": [{}]}, "mark": {"type": "rule", "color": "#000", "strokeWidth": 2},
             "encoding": {
               "x": {"datum": -1.27, "type": "quantitative", "axis": {"values": [-1,0,1,2,3,4,5,6], "title": "t", "titleX": 541, "titleY": -258.3, "titleFontSize": 26, "titleAlign": "center", "titleBaseline": "middle", "labelPadding": 4}},
               "x2": {"datum": 7.5},
               "y": {"datum": 0, "type": "quantitative", "axis": {"values": [-4,-3.5,-3,-2.5,-2,-1.5,-1,-0.5,0,0.5], "title": "x₆², x₆²˒*", "titleX": 23.3, "titleY": -19.7, "titleAngle": 0, "titleFontSize": 19, "titleAlign": "left", "titleBaseline": "middle"}}}},
            {"data": {"values": [{}]}, "mark": {"type": "rule", "color": "#000", "strokeWidth": 2},
             "encoding": {
               "x": {"datum": -1, "type": "quantitative", "axis": {"values": [-1,0,1,2,3,4,5,6], "title": "t", "titleX": 541, "titleY": -258.3, "titleFontSize": 26, "titleAlign": "center", "titleBaseline": "middle", "labelPadding": 4}},
               "y": {"datum": -4.39, "type": "quantitative", "axis": {"values": [-4,-3.5,-3,-2.5,-2,-1.5,-1,-0.5,0,0.5], "title": "x₆², x₆²˒*", "titleX": 23.3, "titleY": -19.7, "titleAngle": 0, "titleFontSize": 19, "titleAlign": "left", "titleBaseline": "middle"}},
               "y2": {"datum": 0.89}}},
            {"data": {"values": [{}]}, "mark": {"type": "point", "shape": "triangle-right", "filled": true, "color": "#000", "opacity": 1, "size": 60},
             "encoding": {
               "x": {"datum": 7.5, "type": "quantitative", "axis": {"values": [-1,0,1,2,3,4,5,6], "title": "t", "titleX": 541, "titleY": -258.3, "titleFontSize": 26, "titleAlign": "center", "titleBaseline": "middle", "labelPadding": 4}},
               "y": {"datum": 0, "type": "quantitative", "axis": {"values": [-4,-3.5,-3,-2.5,-2,-1.5,-1,-0.5,0,0.5], "title": "x₆², x₆²˒*", "titleX": 23.3, "titleY": -19.7, "titleAngle": 0, "titleFontSize": 19, "titleAlign": "left", "titleBaseline": "middle"}}}},
            {"data": {"values": [{}]}, "mark": {"type": "point", "shape": "triangle-up", "filled": true, "color": "#000", "opacity": 1, "size": 60},
             "encoding": {
               "x": {"datum": -1, "type": "quantitative", "axis": {"values": [-1,0,1,2,3,4,5,6], "title": "t", "titleX": 541, "titleY": -258.3, "titleFontSize": 26, "titleAlign": "center", "titleBaseline": "middle", "labelPadding": 4}},
               "y": {"datum": 0.89, "type": "quantitative", "axis": {"values": [-4,-3.5,-3,-2.5,-2,-1.5,-1,-0.5,0,0.5], "title": "x₆², x₆²˒*", "titleX": 23.3, "titleY": -19.7, "titleAngle": 0, "titleFontSize": 19, "titleAlign": "left", "titleBaseline": "middle"}}}}
          ]
        }
      ]
    }
  ],
  "spacing": 37,
  "config": {
    "view": {"stroke": null},
    "axis": {
      "labelFont": "Liberation Serif", "labelFontSize": 13, "labelColor": "#1a1a1a",
      "ticks": false, "domain": false, "grid": true, "gridColor": "#8c8c8c", "gridDash": [2, 2], "gridWidth": 1, "gridOpacity": 1,
      "labelPadding": 3, "labelOverlap": false, "labelSeparation": 0,
      "titleFont": "Liberation Serif", "titleFontStyle": "italic", "titleFontWeight": "normal", "titleColor": "#000",
      "labelExpr": "replace(format(datum.value, '~g'), '−', '-')"
    },
    "axisY": {"minExtent": 24, "maxExtent": 24},
    "title": {"font": "Liberation Serif", "fontStyle": "italic", "fontWeight": "normal", "fontSize": 24, "color": "#000"}
  }
}
